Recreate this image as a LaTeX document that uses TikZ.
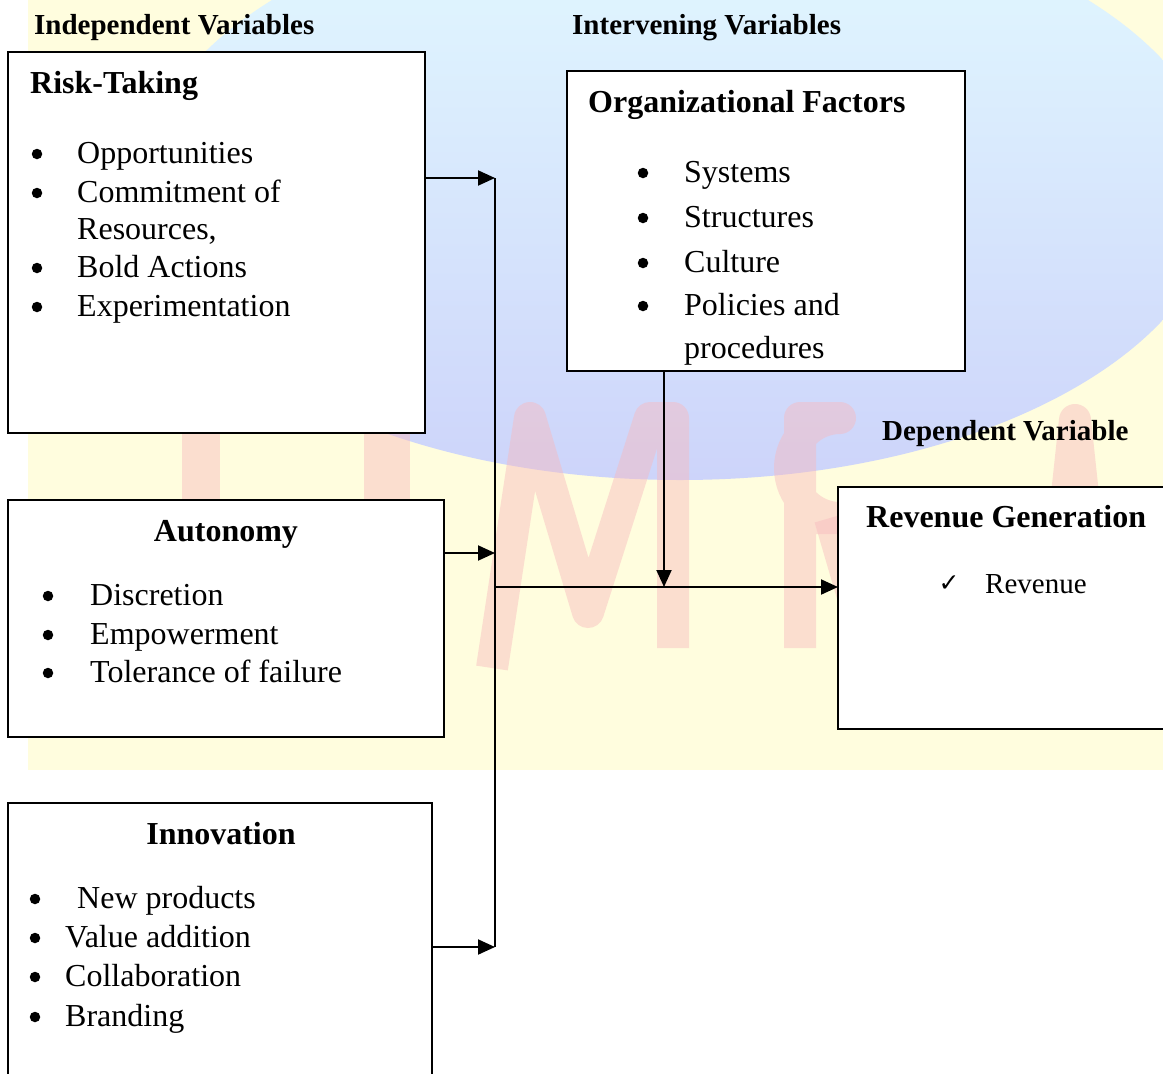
\documentclass[tikz,border=0pt]{standalone}
\usepackage{fontspec}
\setmainfont{Liberation Serif}
\newfontfamily\symfont{DejaVu Sans}
\usetikzlibrary{arrows.meta}
\definecolor{yelbg}{RGB}{255,253,222}
\definecolor{globetop}{RGB}{226,250,255}
\definecolor{globebot}{RGB}{205,212,250}
\definecolor{wmpink}{RGB}{248,185,190}
\begin{document}
\begin{tikzpicture}[x=1pt,y=-1pt,
  box/.style={draw=black, line width=1.6pt, fill=white, inner sep=0pt, outer sep=0pt, anchor=north west},
  body/.style={font=\fontsize{32}{38}\selectfont, inner sep=0pt, anchor=base west},
  head/.style={font=\fontsize{32}{38}\selectfont\bfseries, inner sep=0pt, anchor=base west},
  headc/.style={font=\fontsize{32}{38}\selectfont\bfseries, inner sep=0pt, anchor=base},
  lab/.style={font=\fontsize{29}{34}\selectfont\bfseries, inner sep=0pt, anchor=base west},
  small/.style={font=\fontsize{29}{34}\selectfont, inner sep=0pt, anchor=base west},
  dot/.style={circle, fill=black, inner sep=0pt, minimum size=10.5pt},
  conn/.style={line width=2pt, -{Triangle[length=17pt,width=15pt]}},
  wire/.style={line width=1.6pt},
  wm/.style={draw=wmpink, line width=32pt, opacity=0.45, line join=round},
]
\useasboundingbox (0,0) rectangle (1163,1074);
% watermark background
\fill[yelbg] (28,0) rectangle (1163,770);
\shade[top color=globetop, bottom color=globebot] (680,190) ellipse [x radius=540pt, y radius=290pt];
\fill[wmpink, opacity=0.45] (182,420) rectangle (220,520);
\fill[wmpink, opacity=0.45] (364,420) rectangle (410,520);
\draw[wm] (492,668) -- (530,418) -- (588,612) -- (650,418) -- (673,418) -- (673,648);
\draw[wm] (800,648) -- (800,418) -- (840,418) arc[start angle=-90, end angle=90, radius=-50pt] -- (800,518);
\draw[wm] (830,518) -- (868,648);
\draw[wm] (1045,700) -- (1075,420) -- (1105,700);

% boxes
\node[box, minimum width=417pt, minimum height=381pt] (risk) at (8,52) {};
\node[box, minimum width=398pt, minimum height=300pt] (org) at (567,71) {};
\node[box, minimum width=436pt, minimum height=237pt] (auton) at (8,500) {};
\node[box, minimum width=424pt, minimum height=300pt] (innov) at (8,803) {};
\node[box, minimum width=340pt, minimum height=242pt] (rev) at (838,487) {};

% column labels
\node[lab] (lind) at (34,34) {Independent Variables};
\node[lab] (lint) at (572,34) {Intervening Variables};
\node[lab] (ldep) at (882,440) {Dependent Variable};

% Risk-Taking
\node[head] (rt) at (30,93) {Risk-Taking};
\node[dot] (rb1) at (37,154) {};
\node[body] (r1) at (77,163) {Opportunities};
\node[dot] (rb2) at (37,193) {};
\node[body] (r2) at (77,202) {Commitment of};
\node[body] (r2b) at (77,239) {Resources,};
\node[dot] (rb3) at (37,268) {};
\node[body] (r3) at (77,277) {Bold Actions};
\node[dot] (rb4) at (37,307) {};
\node[body] (r4) at (77,316) {Experimentation};

% Organizational Factors
\node[head] (ot) at (588,112) {Organizational Factors};
\node[dot] (ob1) at (643,173) {};
\node[body] (o1) at (684,182) {Systems};
\node[dot] (ob2) at (643,218) {};
\node[body] (o2) at (684,227) {Structures};
\node[dot] (ob3) at (643,263) {};
\node[body] (o3) at (684,272) {Culture};
\node[dot] (ob4) at (643,306) {};
\node[body] (o4) at (684,315) {Policies and};
\node[body] (o4b) at (684,358) {procedures};

% Autonomy
\node[headc] (at) at (226,541) {Autonomy};
\node[dot] (ab1) at (48,596) {};
\node[body] (a1) at (90,605) {Discretion};
\node[dot] (ab2) at (48,635) {};
\node[body] (a2) at (90,644) {Empowerment};
\node[dot] (ab3) at (48,673) {};
\node[body] (a3) at (90,682) {Tolerance of failure};

% Innovation
\node[headc] (it) at (221,844) {Innovation};
\node[dot] (ib1) at (35,899) {};
\node[body] (i1) at (77,908) {New products};
\node[dot] (ib2) at (35,938) {};
\node[body] (i2) at (65,947) {Value addition};
\node[dot] (ib3) at (35,977) {};
\node[body] (i3) at (65,986) {Collaboration};
\node[dot] (ib4) at (35,1017) {};
\node[body] (i4) at (65,1026) {Branding};

% Revenue Generation
\node[head] (gt) at (866,527) {Revenue Generation};
\node[font=\symfont\fontsize{25}{30}\selectfont, inner sep=0pt, anchor=base] (gc) at (949,591) {✓};
\node[small] (g1) at (985,593) {Revenue};

% connectors
\coordinate (jt) at (495,178);
\coordinate (ja) at (495,553);
\coordinate (jb) at (495,947);
\coordinate (jm) at (495,587);
\coordinate (jo) at (664,587);
\draw[wire] (jt) -- (jb);
\draw[conn] (risk.east |- jt) -- (jt);
\draw[conn] (auton.east |- ja) -- (ja);
\draw[conn] (innov.east |- jb) -- (jb);
\draw[conn] (jm) -- (rev.west |- jm);
\draw[conn] (jo |- org.south) -- (jo);
\end{tikzpicture}
\end{document}
